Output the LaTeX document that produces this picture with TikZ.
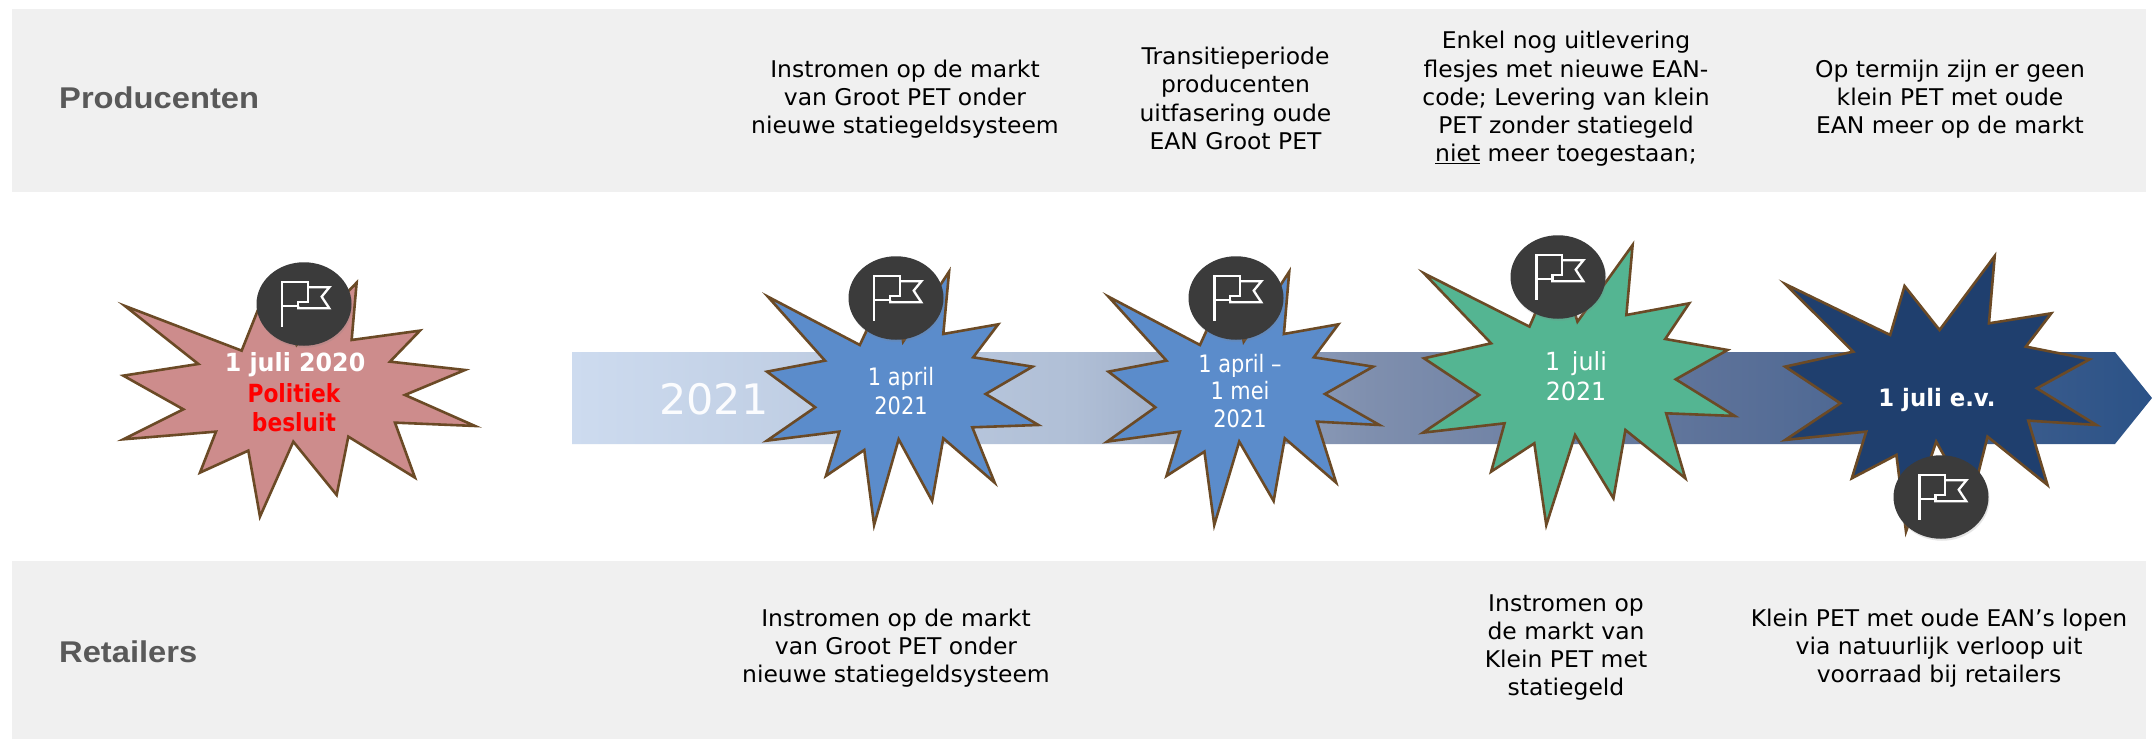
\documentclass[tikz,border=0pt]{standalone}
\usepackage{fontspec}
\usetikzlibrary{shapes.geometric,shadows}
\setmainfont{DejaVu Sans}
\newfontfamily\bodyf[FakeStretch=1.02]{DejaVu Sans}
\newfontfamily\datef[FakeStretch=0.87]{DejaVu Sans}
\newfontfamily\datew[FakeStretch=0.95]{DejaVu Sans}
\newfontfamily\headf[FakeStretch=1.09]{Liberation Sans}
\definecolor{panel}{HTML}{F0F0F0}
\definecolor{headc}{HTML}{595959}
\definecolor{edgec}{HTML}{6B4A26}
\definecolor{pinc}{HTML}{3B3B3B}
\definecolor{pinkc}{HTML}{CD8C8C}
\definecolor{bluec}{HTML}{5B8CCB}
\definecolor{greenc}{HTML}{54B592}
\definecolor{navyc}{HTML}{1F3F6E}
\definecolor{bandl}{HTML}{CDDBEF}
\definecolor{bandb}{HTML}{B0BFD6}
\definecolor{bandc}{HTML}{7F8FAE}
\definecolor{bandd}{HTML}{5A7098}
\definecolor{bande}{HTML}{2B5287}
\pgfdeclarehorizontalshading{bandshade}{100bp}{%
  color(0bp)=(bandl); color(25bp)=(bandl);
  color(40.9bp)=(bandb);
  color(50.2bp)=(bandc);
  color(61.8bp)=(bandd);
  color(75bp)=(bande);
  color(100bp)=(bande)}
\tikzset{
  x=1pt,y=-1pt,
  panelbox/.style={fill=panel,draw=none},
  burst/.style={draw=edgec,line width=2.6pt,line join=miter,miter limit=20},
  pin/.style={ellipse,fill=pinc,draw=none,minimum width=95pt,minimum height=83.5pt,inner sep=0pt,
    drop shadow={shadow xshift=1pt,shadow yshift=-2pt,opacity=.2}},
  flagicon/.style={draw=white,line width=2.3pt,line join=miter,fill=none},
  body/.style={font=\bodyf\fontsize{23}{28.3}\selectfont,text=black,align=center,inner sep=0pt},
  head/.style={font=\headf\bfseries\fontsize{30}{34}\selectfont,text=headc,anchor=west,inner sep=0pt},
  datelab/.style={font=\datef\fontsize{25}{28.3}\selectfont,text=white,align=center,inner sep=0pt},
}
\newcommand{\flagat}[1]{%
  \begin{scope}[shift={(#1)},xscale=0.3333,yscale=0.3333]
    \draw[flagicon] (-65,68) -- (-65,-67) -- (11,-67) -- (11,-7) -- (-17,-7) -- (-17,6) -- (-65,6);
    \draw[flagicon] (11,-50) -- (76,-50) -- (53,-22) -- (76,13) -- (-17,13) -- (-17,6);
  \end{scope}}
\begin{document}
\begin{tikzpicture}
\useasboundingbox (0,0) rectangle (2152,741);
\fill[white] (0,0) rectangle (2152,741);
% panels
\path[panelbox] (12,9) rectangle (2146,192);
\path[panelbox] (12,561) rectangle (2146,739);
% band
\path[shading=bandshade]
  (572,352) -- (2115,352) -- (2152,398) -- (2115,444) -- (572,444) -- cycle;
\node[font=\bodyf\fontsize{42}{42}\selectfont,text=white!92!bandl,inner sep=0pt] (yr) at (714,399) {2021};
% star 1
\begin{scope}[shift={(80,180)},xscale=0.3333,yscale=0.3333]
\draw[burst,fill=pinkc] (135,378) -- (485,512) -- (570,300) -- (650,495) -- (830,308) -- (815,480) -- (1020,452) -- (930,545) -- (1155,570) -- (975,645) -- (1185,738) -- (945,728) -- (1005,893) -- (805,770) -- (770,945) -- (640,785) -- (540,1010) -- (505,812) -- (360,878) -- (408,755) -- (130,778) -- (310,688) -- (130,587) -- (355,552) -- cycle;
\end{scope}
% star 2
\begin{scope}[shift={(700,170)},xscale=0.4464,yscale=0.3333]
\draw[burst,fill=bluec] (152,380) -- (358,525) -- (430,320) -- (455,515) -- (558,305) -- (545,492) -- (668,463) -- (612,562) -- (745,590) -- (640,672) -- (758,765) -- (610,772) -- (660,938) -- (545,805) -- (520,993) -- (445,808) -- (390,1065) -- (368,840) -- (282,918) -- (312,785) -- (150,812) -- (258,712) -- (150,605) -- (280,572) -- cycle;
\end{scope}
% star 3
\begin{scope}[shift={(700,170)},xscale=0.4464,yscale=0.3333]
\draw[burst,fill=bluec] (915,380) -- (1120,525) -- (1190,320) -- (1218,515) -- (1320,305) -- (1308,492) -- (1430,463) -- (1375,562) -- (1508,590) -- (1400,672) -- (1522,765) -- (1382,755) -- (1425,938) -- (1310,805) -- (1285,993) -- (1208,815) -- (1152,1065) -- (1130,845) -- (1045,918) -- (1075,785) -- (912,815) -- (1020,712) -- (915,605) -- (1045,572) -- cycle;
\end{scope}
% star 4
\begin{scope}[shift={(1400,170)},xscale=0.4796,yscale=0.3333]
\draw[burst,fill=greenc] (50,310) -- (270,470) -- (330,270) -- (370,455) -- (485,225) -- (472,435) -- (603,400) -- (553,507) -- (683,540) -- (575,628) -- (698,738) -- (555,730) -- (595,925) -- (470,780) -- (445,985) -- (365,795) -- (305,1065) -- (280,820) -- (190,905) -- (218,760) -- (48,788) -- (165,675) -- (50,565) -- (190,520) -- cycle;
\end{scope}
% star 5
\begin{scope}[shift={(1400,170)},xscale=0.4796,yscale=0.3333]
\draw[burst,fill=navyc] (803,342) -- (1022,495) -- (1052,348) -- (1125,480) -- (1240,258) -- (1228,460) -- (1358,430) -- (1305,530) -- (1438,568) -- (1328,655) -- (1452,765) -- (1310,752) -- (1350,945) -- (1225,800) -- (1190,1000) -- (1118,815) -- (1055,1085) -- (1035,855) -- (942,925) -- (972,785) -- (803,810) -- (918,700) -- (803,590) -- (945,545) -- cycle;
\end{scope}
% pins
\node[pin] (p1) at (304,304) {};
\node[pin] (p2) at (896,298) {};
\node[pin] (p3) at (1236,298) {};
\node[pin] (p4) at (1558,277) {};
\node[pin] (p5) at (1941,497) {};
\flagat{p1.center}
\flagat{p2.center}
\flagat{p3.center}
\flagat{p4.center}
\flagat{p5.center}
% date labels
\node[datelab,font=\datew\bfseries\fontsize{25}{28.3}\selectfont] (d1) at (295,365) {1 juli 2020};
\node[datelab,font=\datef\bfseries\fontsize{25}{29}\selectfont,text=red] (d1b) at (294,408) {Politiek\\besluit};
\node[datelab,font=\datef\fontsize{24}{28.3}\selectfont] (d2) at (901,391) {1 april\\2021};
\node[datelab,font=\datef\fontsize{24}{27.5}\selectfont] (d3) at (1240,391) {1 april –\\1 mei\\2021};
\node[datelab,font=\datew\fontsize{25}{30}\selectfont] (d4) at (1576,376) {1\, juli\\2021};
\node[datelab,font=\datew\bfseries\fontsize{24}{28}\selectfont] (d5) at (1937,400) {1 juli e.v.};
% panel texts
\node[head] (hp) at (59,98) {Producenten};
\node[head] (hr) at (59,652) {Retailers};
\node[body] (t1) at (905,99) {Instromen op de markt\\van Groot PET onder\\nieuwe statiegeldsysteem};
\node[body] (t2) at (1235.5,98.5) {Transitieperiode\\producenten\\uitfasering oude\\EAN Groot PET};
\node[body] (t3) at (1566,99) {Enkel nog uitlevering\\flesjes met nieuwe EAN-\\code; Levering van klein\\PET zonder statiegeld\\\underline{niet} meer toegestaan;};
\node[body] (t4) at (1950,99) {Op termijn zijn er geen\\klein PET met oude\\EAN meer op de markt};
\node[body] (b1) at (896,648) {Instromen op de markt\\van Groot PET onder\\nieuwe statiegeldsysteem};
\node[body] (b2) at (1566,647.5) {Instromen op\\de markt van\\Klein PET met\\statiegeld};
\node[body] (b3) at (1939,648) {Klein PET met oude EAN’s lopen\\via natuurlijk verloop uit\\voorraad bij retailers};
\end{tikzpicture}
\end{document}
